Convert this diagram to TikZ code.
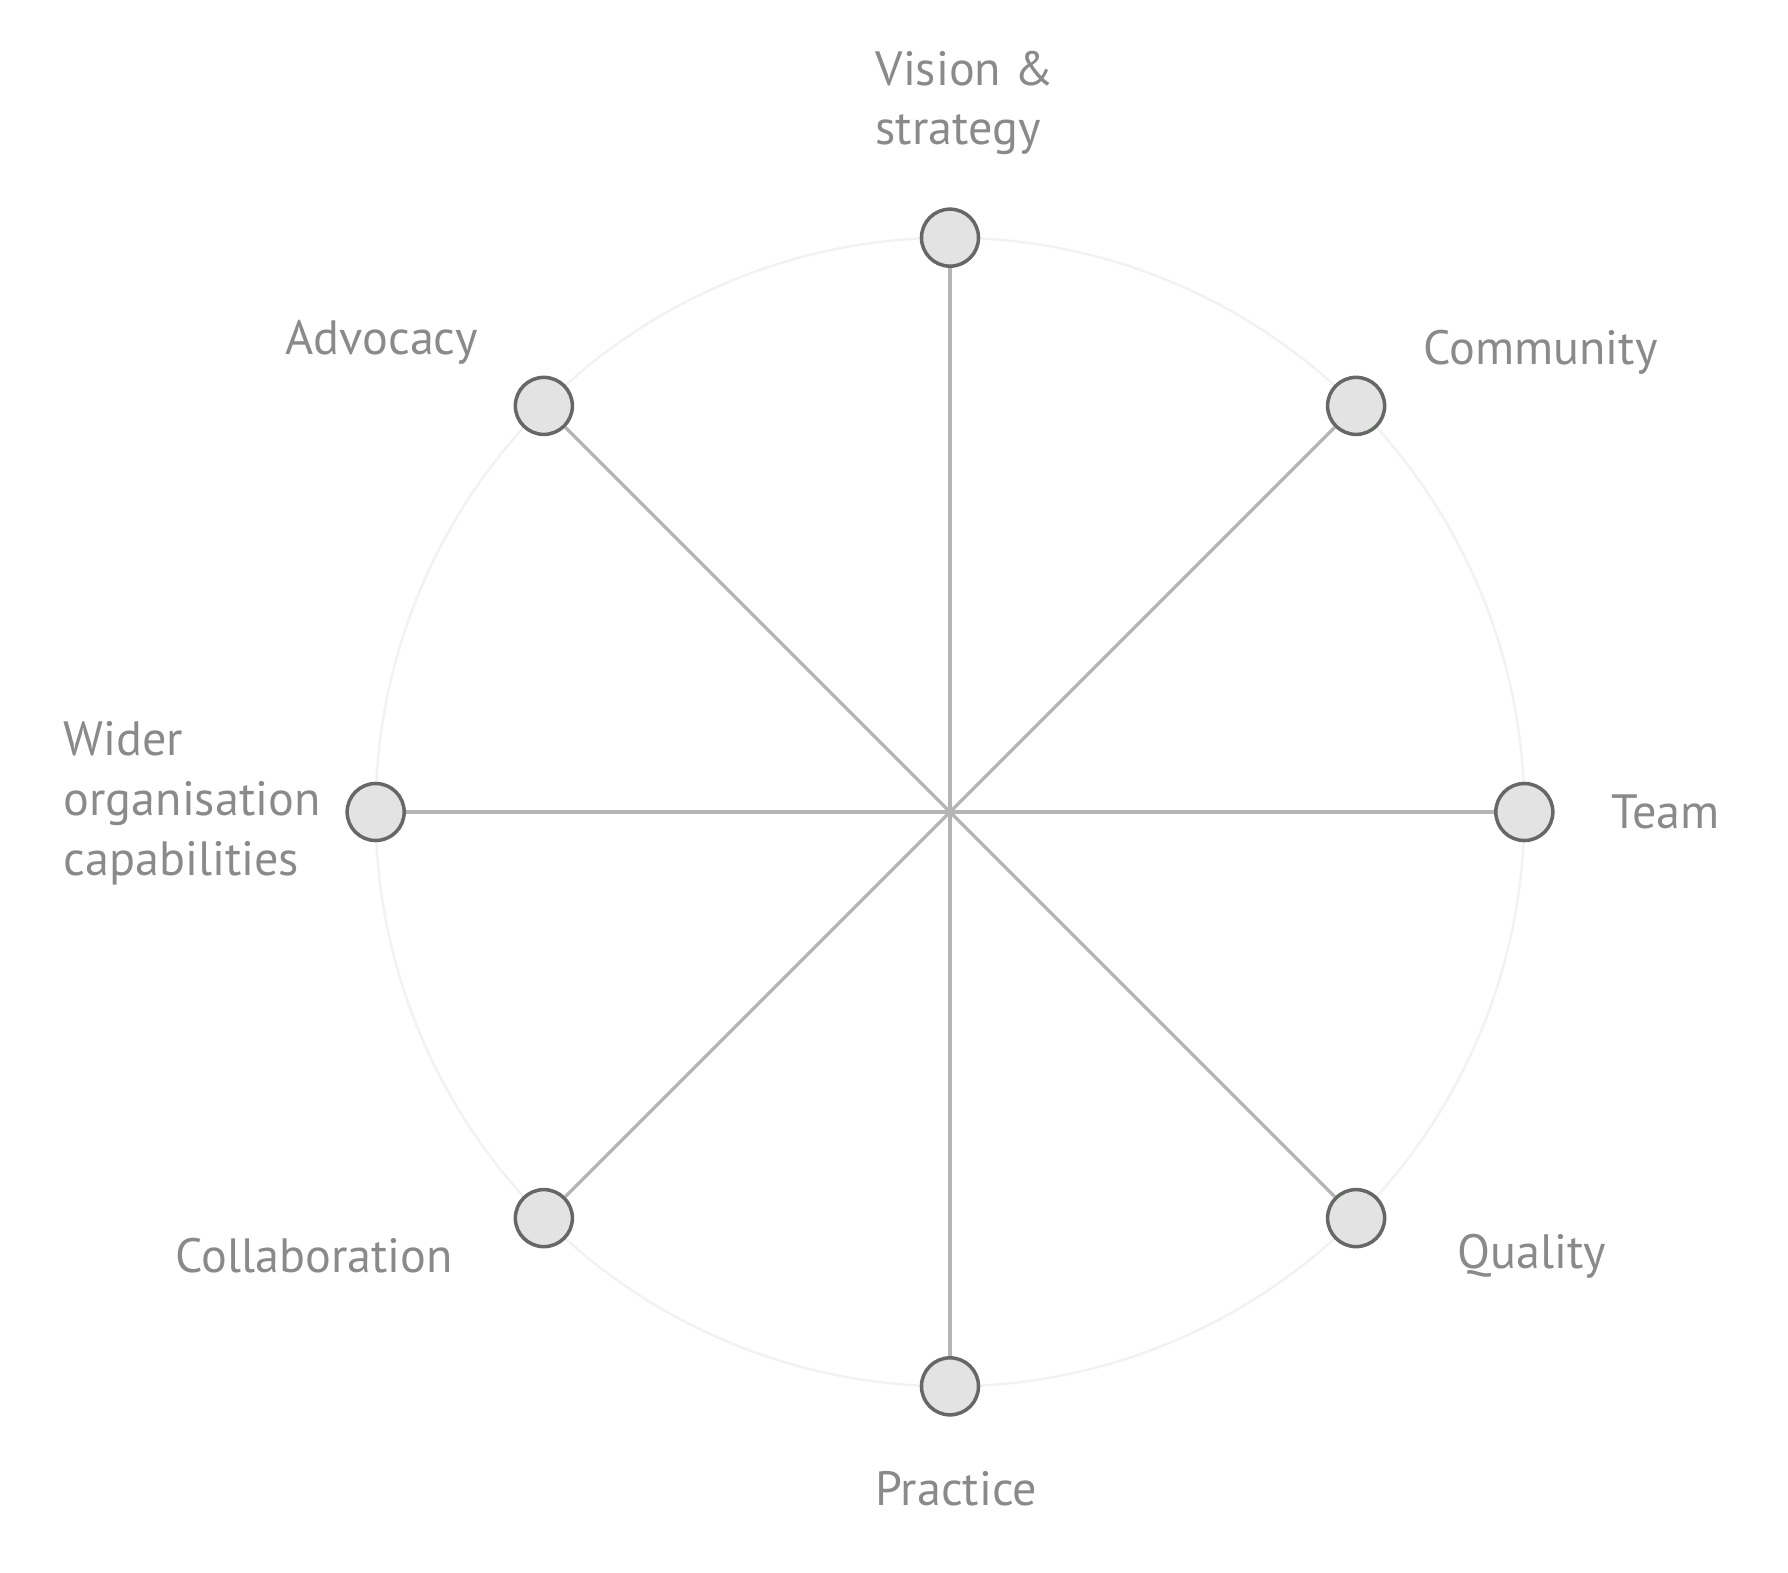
\documentclass[tikz,border=0pt]{standalone}
\usepackage{fontspec}
\setmainfont{PT Sans}
\usepackage{tikz}
\usetikzlibrary{positioning}
\definecolor{labelgray}{HTML}{8A8A8A}
\definecolor{spokegray}{HTML}{B5B5B5}
\definecolor{ringgray}{HTML}{F2F2F2}
\definecolor{dotfill}{HTML}{E3E3E3}
\definecolor{dotline}{HTML}{666866}

\begin{document}
\begin{tikzpicture}[x=0.01cm, y=0.01cm, every node/.style={font=\fontsize{13.7}{17}\selectfont, text=labelgray},
  dot/.style={circle, draw=dotline, fill=dotfill, line width=1pt, minimum size=0.57cm, inner sep=0pt},
  lbl/.style={anchor=west, align=left, inner sep=0pt}]

\useasboundingbox (-950,-760) rectangle (838,812);

% Faint outer ring
\coordinate (c) at (0,0);
\draw[ringgray, line width=0.7pt] (c) circle (5.74cm);

% Dots on the ring
\node[dot] (vision) at (90:5.74cm) {};
\node[dot] (community) at (45:5.74cm) {};
\node[dot] (team) at (0:5.74cm) {};
\node[dot] (quality) at (-45:5.74cm) {};
\node[dot] (practice) at (-90:5.74cm) {};
\node[dot] (collab) at (-135:5.74cm) {};
\node[dot] (wider) at (180:5.74cm) {};
\node[dot] (advocacy) at (135:5.74cm) {};

% Spokes
\foreach \n in {vision,community,team,quality,practice,collab,wider,advocacy}
  \draw[spokegray, line width=1pt] (c) -- (\n);

% Labels
\node[lbl] (visionlbl) at (-75,709) {Vision \&\\strategy};
\node[lbl] (communitylbl) at (473,460) {Community};
\node[lbl] (teamlbl) at (661,0) {Team};
\node[lbl] (qualitylbl) at (507,-444) {Quality};
\node[lbl] (practicelbl) at (-75,-677) {Practice};
\node[lbl] (collablbl) at (-775,-444) {Collaboration};
\node[lbl] (widerlbl) at (-887,9) {Wider\\organisation\\capabilities};
\node[lbl] (advocacylbl) at (-665,470) {Advocacy};

\end{tikzpicture}
\end{document}
